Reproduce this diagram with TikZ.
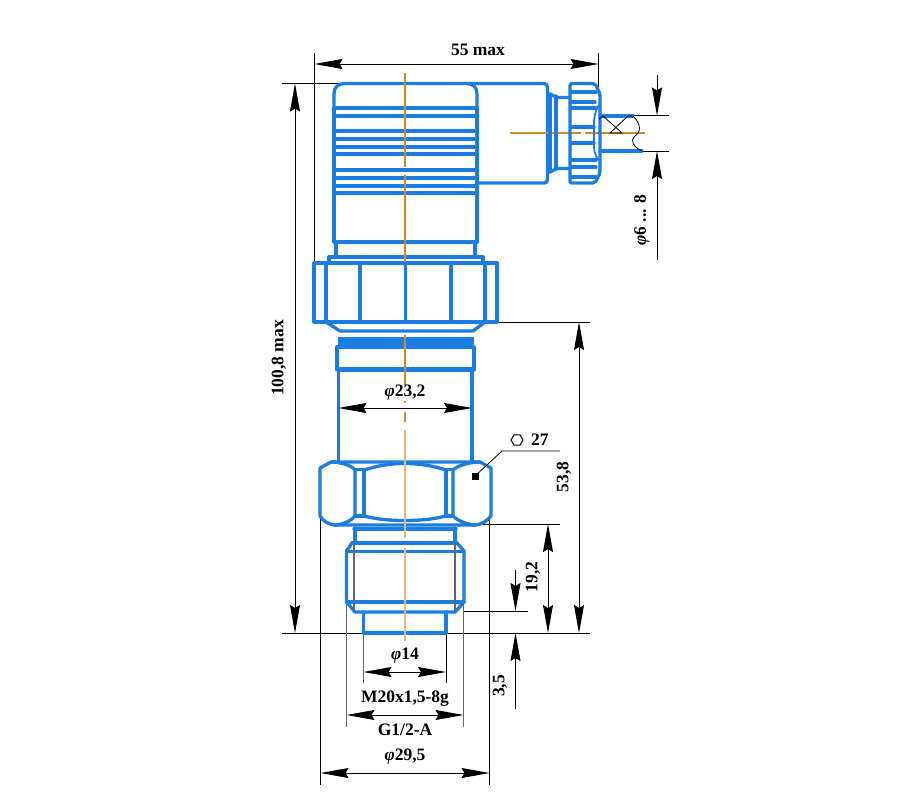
\documentclass[tikz,border=0pt]{standalone}
\usepackage{fontspec}
\setmainfont{Liberation Serif}
\usetikzlibrary{arrows.meta}
\definecolor{partblue}{HTML}{1B7DE2}
\definecolor{axisor}{HTML}{C98A30}
\definecolor{axispale}{HTML}{DDBB85}
\tikzset{
  part/.style={draw=partblue,line width=3.3pt,line join=round,line cap=round},
  axis/.style={draw=axisor,line width=1.2pt},
  axislow/.style={draw=axispale,line width=1.5pt},
  ext/.style={draw=black,line width=1pt},
  extgrey/.style={draw=black!60,line width=1.2pt},
  fine/.style={draw=black,line width=.8pt},
  dimtip/.style={{Stealth[length=28pt,width=10pt,inset=3pt]}-{Stealth[length=28pt,width=10pt,inset=3pt]}},
  endtip/.style={-{Stealth[length=28pt,width=10pt,inset=3pt]}},
  dim/.style={draw=black,line width=1pt,dimtip},
  oneway/.style={draw=black,line width=1pt,endtip},
  lab/.style={font=\bfseries\fontsize{17.5}{19}\selectfont,inner sep=0pt,text=black}
}
\newcommand{\ph}{\textit{φ}}
\begin{document}
\begin{tikzpicture}[x=1pt,y=-1pt]
\useasboundingbox (0,0) rectangle (904,803);
\fill[white] (0,0) rectangle (904,803);

% extension lines
\draw[ext] (282,83.5) -- (345,83.5);
\draw[ext] (314.5,53) -- (314.5,263);
\draw[ext] (598.5,53) -- (598.5,93);
\draw[ext] (282,633) -- (590,633);
\draw[ext] (497,322) -- (590,322);
\draw[ext] (476,524) -- (560,524);
\draw[ext] (463,611) -- (528,611);
\draw[ext] (320.5,516) -- (320.5,785);
\draw[ext] (489.5,516) -- (489.5,785);
\draw[extgrey] (346.5,602) -- (346.5,727);
\draw[extgrey] (463.5,602) -- (463.5,727);
\draw[extgrey] (363.5,633) -- (363.5,683);
\draw[ext] (446,612) -- (446,683);
\draw[ext] (633,115.5) -- (669,115.5);
\draw[ext] (640,151) -- (669,151);

% housing
\draw[part] (334,108) -- (334,94) .. controls (334,87) and (338,83.5) .. (345,83.5)
  -- (544,83.5) .. controls (546.5,83.5) and (547.5,85) .. (547.5,88)
  -- (547.5,179) .. controls (547.5,182) and (546.5,183) .. (544,183) -- (477,183);
\draw[part] (466,83.5) .. controls (473,83.5) and (477,87) .. (477,94) -- (477,108);
\draw[part] (334,108) -- (477,108) (334,116) -- (477,116) (334,131) -- (477,131)
  (334,139) -- (477,139) (334,147) -- (477,147) (334,154) -- (477,154)
  (334,170) -- (477,170) (334,178) -- (477,178) (334,186) -- (477,186)
  (334,193) -- (477,193) (334,242) -- (477,242);
\draw[part] (334,108) -- (334,242) (477,108) -- (477,242);
\draw[part] (336,242) -- (336,257) (475,242) -- (475,257);
\draw[part] (329,262.5) -- (329,257) -- (483,257) -- (483,262.5);

% big hexagon
\draw[part] (314,263) rectangle (497,322);
\draw[part] (326,263) -- (326,322) (360,263) -- (360,322) (405.5,263) -- (405.5,322)
  (451,263) -- (451,322) (485,263) -- (485,322);
\draw[part] (326,322) -- (340,331) -- (473,331) -- (485,322);
\fill[partblue] (338,337) rectangle (474,347);
\draw[part] (337,347) -- (337,370) (474,347) -- (474,370) (337,347) -- (474,347);
\draw[part,line width=5pt,line cap=butt] (337,369.5) -- (474,369.5);
\draw[part] (338.5,370) -- (338.5,462) (472,370) -- (472,462);

% nut
\draw[part] (331,462) -- (480,462) -- (491,468) -- (491,516)
  .. controls (487,521) and (482,524) .. (476,525) -- (334,525)
  .. controls (328,524) and (323,521) .. (320,516) -- (320,468) -- (331,462);
\draw[part] (331,462) .. controls (340,462) and (351,465) .. (355,470) -- (355,516)
  .. controls (351,521) and (342,525) .. (334,525);
\draw[part] (480,462) .. controls (471,462) and (458,465) .. (453,470) -- (453,516)
  .. controls (458,521) and (468,525) .. (476,525);
\draw[part] (355,469.5) -- (364,469.5) (446,469.5) -- (453,469.5)
  (355,516) -- (364,516) (446,516) -- (453,516);
\draw[part] (364,470) -- (364,516) (446,470) -- (446,516);
\draw[part] (364,470) .. controls (378,465.5) and (391,463.5) .. (405,463.5)
  .. controls (419,463.5) and (432,465.5) .. (446,470);
\draw[part] (364,516) .. controls (378,519.5) and (391,520.5) .. (405,520.5)
  .. controls (419,520.5) and (432,519.5) .. (446,516);
\draw[part] (354,529) -- (456,529);

% thread
\draw[part] (355,528) -- (355,543) (455,528) -- (455,543);
\draw[part] (352,543) -- (457,543);
\draw[part] (352,543) -- (346.5,551) -- (346.5,602) -- (355,612) -- (455,612) -- (464,602) -- (464,551) -- (457,543);
\draw[part] (346.5,551.5) -- (464,551.5) (346.5,602) -- (464,602);
\draw[part] (363.5,612) -- (363.5,633) -- (446,633) -- (446,612);
\draw[extgrey] (354,543) -- (354,612);
\draw[extgrey] (455,543) -- (455,612);

% axes
\draw[axis] (405,73) -- (405,167) (405,175) -- (405,262);
\draw[axis] (405,335) -- (405,403);
\draw[axis] (405,412) -- (405,422);
\draw[axislow] (405,430) -- (405,538) (405,548) -- (405,641);
\draw[axis] (510,133) -- (581,133) (585,133) -- (645,133);

% connector neck and gland nut
\draw[part] (550,94) -- (550,172) (556,96) -- (556,169);
\draw[part] (550,94) -- (557,97.5) -- (568,97.5) (550,172) -- (557,168.5) -- (568,168.5);
\draw[part,rounded corners=2pt] (570,83.5) -- (595,83.5) -- (600,94) -- (600,173) -- (595,183) -- (570,183) -- cycle;
\draw[part] (571,92) -- (596,92) (571,102) -- (595,102) (571,108) -- (596,108)
  (571,127) -- (594,127) (571,143) -- (594,143)
  (571,160) -- (596,160) (571,167) -- (596,167) (571,177) -- (596,177);
\draw[part,line width=1.8pt] (598,106) .. controls (594,116) and (594,118) .. (594,126)
  -- (594,144) .. controls (594,150) and (594,152) .. (598,160);
\draw[part] (600,116) -- (633,116) (600,151) -- (642,151);
\draw[fine] (633,116) .. controls (638,121) and (639.5,125) .. (639.5,129)
  .. controls (639.5,134) and (633,136) .. (632.5,140) .. controls (632.5,145) and (637,149) .. (642,151);
\draw[fine] (599,119) -- (603,116) -- (622,133) -- (610,133) -- (628,116) -- (633,116);

% hexagon leader
\fill[black] (472,473) rectangle (478.5,479.5);
\draw[fine] (475,476) -- (502,451) -- (560,451);
\draw[line width=1pt] (523,440) -- (520,445.2) -- (514,445.2) -- (511,440) -- (514,434.8) -- (520,434.8) -- cycle;

% dimensions
\draw[dim] (314.5,64) -- (598.5,64);
\draw[dim] (295,83.5) -- (295,633);
\draw[dim] (579,322) -- (579,633);
\draw[dim] (548,524) -- (548,633);
\draw[dim] (338.5,408) -- (472,408);
\draw[dim] (363.5,672) -- (446,672);
\draw[dim] (346.5,715) -- (463.5,715);
\draw[dim] (320.5,773) -- (489.5,773);
\draw[oneway] (515.5,570) -- (515.5,611);
\draw[oneway] (515.5,709) -- (515.5,633);
\draw[oneway] (657,75) -- (657,115.5);
\draw[oneway] (657,260) -- (657,151);

% labels
\node[lab] (lmax) at (478,50) {55 max};
\node[lab,rotate=90] (lheight) at (279,358) {100,8 max};
\node[lab,rotate=90] (lcable) at (642,220) {\ph6 ... 8};
\node[lab,fill=white,inner sep=.5pt] (lbody) at (405,393) {\ph23,2};
\node[lab,anchor=west] (lhex) at (531,440) {27};
\node[lab,rotate=90] (lfl) at (564,477) {53,8};
\node[lab,rotate=90] (lnut) at (533,577) {19,2};
\node[lab,rotate=90] (ltip) at (500,686) {3,5};
\node[lab] (lfourteen) at (405,656) {\ph14};
\node[lab] (lmetric) at (405,699) {M20x1,5-8g};
\node[lab] (lgas) at (405,730) {G1/2-A};
\node[lab] (lnutw) at (405,757) {\ph29,5};
\end{tikzpicture}
\end{document}
